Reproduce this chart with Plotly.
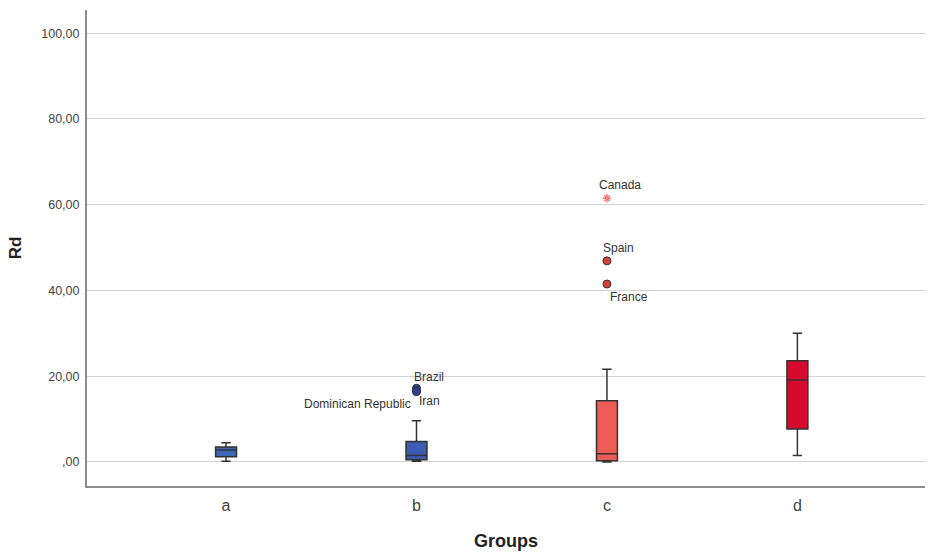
import plotly.graph_objects as go

groups = ["a", "b", "c", "d"]
lower_fence = [0.2, 0.2, 0.0, 1.5]
q1 = [1.2, 0.5, 0.3, 7.7]
median = [2.8, 1.5, 1.9, 19.1]
q3 = [3.5, 4.8, 14.3, 23.6]
upper_fence = [4.5, 9.6, 21.6, 30.0]
box_colors = ["#3f67b8", "#3b5cb3", "#ee5a54", "#d4092c"]

outlier_groups = ["b", "b", "b", "c", "c", "c"]
outlier_values = [17.2, 16.6, 16.4, 46.9, 41.5, 61.5]
outlier_labels = ["Brazil", "Iran", "Dominican Republic", "Spain", "France", "Canada"]
outlier_symbols = ["circle", "circle", "circle", "circle", "circle", "asterisk-open"]
outlier_colors = ["#2f3f9a", "#2f3f9a", "#2f3f9a", "#d9403c", "#d9403c", "#f07c7c"]

y_tickvals = [0, 20, 40, 60, 80, 100]
y_ticktext = [",00", "20,00", "40,00", "60,00", "80,00", "100,00"]

fig = go.Figure()
for i, g in enumerate(groups):
    fig.add_trace(go.Box(
        x=[g], q1=[q1[i]], median=[median[i]], q3=[q3[i]],
        lowerfence=[lower_fence[i]], upperfence=[upper_fence[i]],
        fillcolor=box_colors[i], line=dict(color="#333333", width=1.5),
        width=0.11, whiskerwidth=0.45, boxpoints=False, showlegend=False,
        hoverinfo="skip",
    ))

# outlier markers
for i in range(len(outlier_values)):
    sym = outlier_symbols[i]
    if sym == "circle":
        marker = dict(symbol="circle", size=8, color=outlier_colors[i],
                      line=dict(color="#333333", width=1))
    else:
        marker = dict(symbol="asterisk-open", size=7, color=outlier_colors[i],
                      line=dict(color=outlier_colors[i], width=1.5))
    fig.add_trace(go.Scatter(
        x=[outlier_groups[i]], y=[outlier_values[i]], mode="markers",
        marker=marker, showlegend=False, hoverinfo="skip",
    ))

# label offsets (pixels) - style only
label_style = {
    "Brazil": dict(xshift=13, yshift=11, xanchor="center"),
    "Iran": dict(xshift=1, yshift=-10, xanchor="left"),
    "Dominican Republic": dict(xshift=-3, yshift=-12, xanchor="right"),
    "Spain": dict(xshift=12, yshift=13, xanchor="center"),
    "France": dict(xshift=22, yshift=-13, xanchor="center"),
    "Canada": dict(xshift=13, yshift=13, xanchor="center"),
}
for g, v, lab in zip(outlier_groups, outlier_values, outlier_labels):
    st = label_style[lab]
    fig.add_annotation(x=g, y=v, text=lab, showarrow=False,
                       xanchor=st["xanchor"], yanchor="middle",
                       xshift=st["xshift"], yshift=st["yshift"],
                       font=dict(family="Liberation Sans, Arial", size=12, color="#333333"))

fig.update_layout(
    width=928, height=556,
    margin=dict(l=87, r=3, t=10, b=70, autoexpand=False),
    paper_bgcolor="white", plot_bgcolor="white",
    font=dict(family="Liberation Sans, Arial", color="#333333"),
    xaxis=dict(
        type="category", categoryorder="array", categoryarray=groups,
        range=[-0.73, 3.67],
        showline=True, linecolor="#8c8c8c", linewidth=2,
        showgrid=False, ticks="", zeroline=False,
        tickfont=dict(size=16, color="#444444"), ticklabelstandoff=4,
        title=dict(text="<b>Groups</b>", font=dict(size=18, color="#222222"), standoff=21),
    ),
    yaxis=dict(
        range=[-5.6, 105.4],
        tickvals=y_tickvals, ticktext=y_ticktext,
        showline=True, linecolor="#8c8c8c", linewidth=2,
        showgrid=True, gridcolor="#d4d4d4", gridwidth=1.2,
        zeroline=False, ticks="",
        tickfont=dict(size=12.5, color="#444444"), ticklabelstandoff=3,
        title=dict(text="<b>Rd</b>", font=dict(size=17, color="#222222"), standoff=15),
    ),
)

fig.write_html("out.html", config={"displayModeBar": False},
               post_script="document.body.style.margin='0';")
